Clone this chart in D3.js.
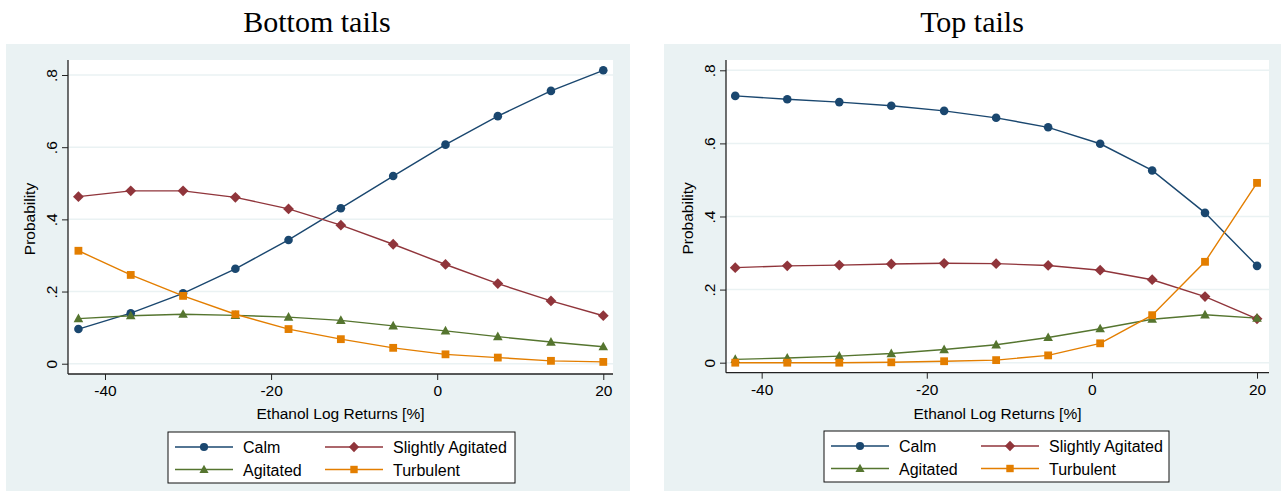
<!DOCTYPE html>
<html><head><meta charset="utf-8">
<script src="https://cdn.jsdelivr.net/npm/d3@7"></script>
<style>body{margin:0;background:#fff}svg{display:block}</style>
</head><body>
<svg id="c" width="1281" height="491"></svg>
<script>
const returns = [-43.2, -36.9, -30.6, -24.3, -17.9, -11.6, -5.3, 1.0, 7.3, 13.7, 20.0];
const seriesNames = ["Calm", "Slightly Agitated", "Agitated", "Turbulent"];
const bottomCalm = [0.096, 0.140, 0.195, 0.263, 0.343, 0.431, 0.520, 0.607, 0.686, 0.756, 0.813];
const bottomSlight = [0.463, 0.479, 0.479, 0.461, 0.429, 0.384, 0.331, 0.275, 0.222, 0.174, 0.133];
const bottomAgit = [0.125, 0.133, 0.137, 0.134, 0.129, 0.120, 0.105, 0.091, 0.075, 0.060, 0.047];
const bottomTurb = [0.313, 0.246, 0.188, 0.137, 0.096, 0.068, 0.044, 0.026, 0.017, 0.008, 0.005];
const topCalm = [0.730, 0.721, 0.713, 0.703, 0.689, 0.670, 0.644, 0.599, 0.526, 0.410, 0.265];
const topSlight = [0.260, 0.265, 0.267, 0.270, 0.272, 0.271, 0.266, 0.253, 0.227, 0.181, 0.120];
const topAgit = [0.009, 0.013, 0.018, 0.025, 0.036, 0.049, 0.069, 0.093, 0.119, 0.131, 0.122];
const topTurb = [0.000, 0.000, 0.000, 0.001, 0.004, 0.007, 0.020, 0.053, 0.130, 0.276, 0.492];
const yTicks = [0, 0.2, 0.4, 0.6, 0.8];
const yTickLabels = ["0", ".2", ".4", ".6", ".8"];
const xTicks = [-40, -20, 0, 20];
const xTickLabels = ["-40", "-20", "0", "20"];
const titles = ["Bottom tails", "Top tails"];

const colors = ["#1a476f", "#90353b", "#55752f", "#e37e00"];
const shapes = ["circle", "diamond", "triangle", "square"];
const font = "'Liberation Sans', Arial, Helvetica, sans-serif";
const svg = d3.select("#c");

function marker(g, shape, x, y, color, s) {
  s = s || 1;
  if (shape === "circle") g.append("circle").attr("cx", x).attr("cy", y).attr("r", 4.3 * s).attr("fill", color);
  else if (shape === "diamond") { const r = 5.4 * s; g.append("path").attr("d", `M${x},${y - r}L${x + r},${y}L${x},${y + r}L${x - r},${y}Z`).attr("fill", color); }
  else if (shape === "triangle") { const r = 4.8 * s; g.append("path").attr("d", `M${x},${y - r * 1.05}L${x + r},${y + r * 0.75}L${x - r},${y + r * 0.75}Z`).attr("fill", color); }
  else { const r = 3.9 * s; g.append("rect").attr("x", x - r).attr("y", y - r).attr("width", 2 * r).attr("height", 2 * r).attr("fill", color); }
}

function panel(cfg) {
  const g = svg.append("g");
  g.append("rect").attr("x", cfg.bg[0]).attr("y", cfg.bg[1]).attr("width", cfg.bg[2]).attr("height", cfg.bg[3]).attr("fill", "#eaf2f3");
  const p = cfg.plot; // [x0,y0,x1,y1]
  g.append("rect").attr("x", p[0]).attr("y", p[1]).attr("width", p[2] - p[0]).attr("height", p[3] - p[1]).attr("fill", "#fff");
  const x = d3.scaleLinear().domain(cfg.xd).range([p[0], p[2]]);
  const y = d3.scaleLinear().domain(cfg.yd).range([p[3], p[1]]);
  g.selectAll(".grid").data(yTicks).enter().append("line")
    .attr("x1", p[0]).attr("x2", p[2]).attr("y1", d => y(d)).attr("y2", d => y(d))
    .attr("stroke", "#eaf2f3").attr("stroke-width", 1.5);
  svg.append("text").attr("x", cfg.titleX).attr("y", 32).attr("text-anchor", "middle")
    .attr("font-family", "'Liberation Serif', 'Times New Roman', serif").attr("font-size", 30).attr("fill", "#000").text(cfg.title);
  const ya = d3.axisLeft(y).tickValues(yTicks).tickSize(6).tickFormat((d, i) => yTickLabels[i]);
  const yg = g.append("g").attr("transform", `translate(${p[0]},0)`).call(ya);
  yg.select(".domain").attr("stroke", "#222").attr("stroke-width", 1.3).attr("d", `M0,${p[3]}V${p[1]}`);
  yg.selectAll(".tick line").attr("stroke", "#222");
  yg.selectAll(".tick text").attr("font-family", font).attr("font-size", 15.5).attr("fill", "#000")
    .attr("transform", "rotate(-90)").attr("x", 0).attr("y", -11).attr("dy", 0).attr("text-anchor", "middle");
  const xa = d3.axisBottom(x).tickValues(xTicks).tickSize(6).tickFormat((d, i) => xTickLabels[i]);
  const xg = g.append("g").attr("transform", `translate(0,${p[3]})`).call(xa);
  xg.select(".domain").attr("stroke", "#222").attr("stroke-width", 1.3).attr("d", `M${p[0]},0H${p[2]}`);
  xg.selectAll(".tick line").attr("stroke", "#222");
  xg.selectAll(".tick text").attr("font-family", font).attr("font-size", 15.5).attr("fill", "#000").attr("y", 11).attr("dy", "0.71em");
  g.append("text").attr("transform", `translate(${p[0] - 33},${(p[1] + p[3]) / 2 + 2}) rotate(-90)`).attr("text-anchor", "middle")
    .attr("font-family", font).attr("font-size", 15.5).attr("fill", "#000").text("Probability");
  g.append("text").attr("x", (p[0] + p[2]) / 2).attr("y", 419).attr("text-anchor", "middle")
    .attr("font-family", font).attr("font-size", 15.5).attr("fill", "#000").text("Ethanol Log Returns [%]");
  const line = d3.line().x((d, i) => x(returns[i])).y(d => y(d));
  cfg.series.forEach((vals, si) => {
    g.append("path").attr("d", line(vals)).attr("fill", "none").attr("stroke", colors[si]).attr("stroke-width", 1.4);
  });
  cfg.series.forEach((vals, si) => {
    vals.forEach((v, i) => marker(g, shapes[si], x(returns[i]), y(v), colors[si]));
  });
  const L = cfg.legend;
  g.append("rect").attr("x", L[0]).attr("y", L[1]).attr("width", L[2] - L[0]).attr("height", L[3] - L[1]).attr("fill", "#fff").attr("stroke", "#111").attr("stroke-width", 1);
  const rowY = [L[1] + 15, L[1] + 37.5];
  const colX = [L[0] + 7, L[0] + 157];
  seriesNames.forEach((name, i) => {
    const cx = colX[i % 2], cy = rowY[Math.floor(i / 2)];
    g.append("line").attr("x1", cx).attr("x2", cx + 58).attr("y1", cy).attr("y2", cy).attr("stroke", colors[i]).attr("stroke-width", 1.4);
    marker(g, shapes[i], cx + 29, cy, colors[i], 0.95);
    g.append("text").attr("x", cx + 68).attr("y", cy + 6).attr("font-family", font).attr("font-size", 16).attr("fill", "#000").text(name);
  });
}

panel({
  title: titles[0], titleX: 317,
  bg: [6, 44, 624, 447],
  plot: [68, 60, 613, 374],
  xd: [-44.455, 21.17], yd: [-0.0285, 0.8416],
  series: [bottomCalm, bottomSlight, bottomAgit, bottomTurb],
  legend: [168, 432, 515, 483]
});
panel({
  title: titles[1], titleX: 972,
  bg: [664, 44, 617, 447],
  plot: [726, 60, 1269, 372.7],
  xd: [-44.32, 21.45], yd: [-0.0274, 0.8282],
  series: [topCalm, topSlight, topAgit, topTurb],
  legend: [824, 431, 1169, 482]
});
</script>
</body></html>
